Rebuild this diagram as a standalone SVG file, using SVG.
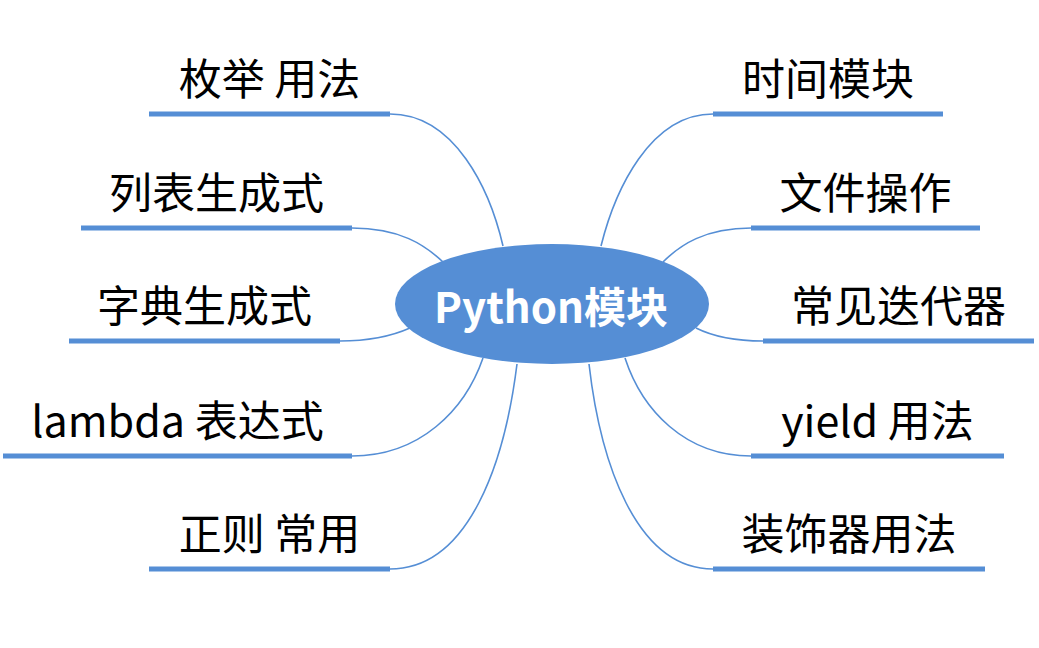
<svg xmlns="http://www.w3.org/2000/svg" width="1039" height="648" viewBox="0 0 1039 648">
<style>
.bar{stroke:#558ED5;stroke-width:5;fill:none}
.con{stroke:#558ED5;stroke-width:1.6;fill:none}
.lbl{font-family:"Noto Sans CJK SC","Microsoft YaHei",sans-serif;font-size:43px;fill:#000;text-anchor:middle}
.ctr{font-family:"Noto Sans CJK SC",sans-serif;font-size:42px;font-weight:bold;fill:#fff;text-anchor:middle}
</style>
<rect width="1039" height="648" fill="#fff"/>
<g id="connectors">
<path class="con" d="M390,114 C455,114 490,190 503,246"/>
<path class="con" d="M352,228 C400,228 425,245 443,262"/>
<path class="con" d="M340,341 C370,341 392,336 410,328"/>
<path class="con" d="M352,456 C420,456 465,410 483,358"/>
<path class="con" d="M390,569 C470,569 505,460 517,364"/>
<path class="con" d="M713,114 C650,114 615,190 601,246"/>
<path class="con" d="M751,228 C705,228 680,245 663,262"/>
<path class="con" d="M763,341 C733,341 712,336 696,328"/>
<path class="con" d="M751,456 C685,456 642,410 625,358"/>
<path class="con" d="M713,569 C635,569 600,460 589,364"/>
</g>
<g id="center">
<ellipse cx="552" cy="304" rx="157" ry="60" fill="#558ED5"/>
<text class="ctr" x="551" y="323">Python模块</text>
</g>
<g id="n1"><line class="bar" x1="149" y1="114" x2="390" y2="114"/><text class="lbl" x="269.5" y="95">枚举 用法</text></g>
<g id="n2"><line class="bar" x1="81" y1="228" x2="352" y2="228"/><text class="lbl" x="216.5" y="209">列表生成式</text></g>
<g id="n3"><line class="bar" x1="69" y1="341" x2="340" y2="341"/><text class="lbl" x="204.5" y="322">字典生成式</text></g>
<g id="n4"><line class="bar" x1="3" y1="456" x2="352" y2="456"/><text class="lbl" x="177.5" y="437">lambda 表达式</text></g>
<g id="n5"><line class="bar" x1="149" y1="569" x2="390" y2="569"/><text class="lbl" x="269.5" y="550">正则 常用</text></g>
<g id="n6"><line class="bar" x1="713" y1="114" x2="943" y2="114"/><text class="lbl" x="828" y="95">时间模块</text></g>
<g id="n7"><line class="bar" x1="751" y1="228" x2="980" y2="228"/><text class="lbl" x="865.5" y="209">文件操作</text></g>
<g id="n8"><line class="bar" x1="763" y1="341" x2="1034" y2="341"/><text class="lbl" x="898.5" y="322">常见迭代器</text></g>
<g id="n9"><line class="bar" x1="751" y1="456" x2="1004" y2="456"/><text class="lbl" x="877.5" y="437">yield 用法</text></g>
<g id="n10"><line class="bar" x1="713" y1="569" x2="985" y2="569"/><text class="lbl" x="849" y="550">装饰器用法</text></g>
</svg>
